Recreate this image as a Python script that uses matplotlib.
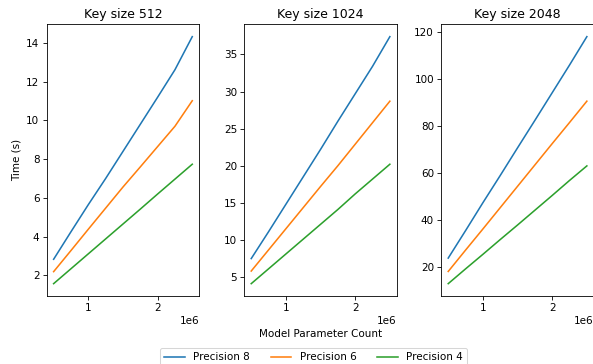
import matplotlib.pyplot as plt
import numpy as np

params = [0.5e6, 0.75e6, 1.0e6, 1.25e6, 1.5e6, 1.75e6, 2.0e6, 2.25e6, 2.5e6]
key_sizes = [512, 1024, 2048]
precisions = [8, 6, 4]

# times in seconds, per key size, per precision
t512_p8 = [2.83, 4.25, 5.65, 7.0, 8.4, 9.8, 11.2, 12.62, 14.33]
t512_p6 = [2.19, 3.28, 4.38, 5.47, 6.56, 7.6, 8.65, 9.7, 11.02]
t512_p4 = [1.57, 2.34, 3.11, 3.88, 4.65, 5.42, 6.2, 6.97, 7.74]

t1024_p8 = [7.48, 11.1, 14.8, 18.5, 22.2, 26.0, 29.7, 33.4, 37.4]
t1024_p6 = [5.8, 8.65, 11.5, 14.35, 17.2, 20.0, 22.9, 25.8, 28.7]
t1024_p4 = [4.1, 6.1, 8.1, 10.1, 12.1, 14.1, 16.2, 18.2, 20.2]

t2048_p8 = [23.8, 35.5, 47.4, 59.0, 70.8, 82.5, 94.3, 106.1, 118.2]
t2048_p6 = [18.1, 27.2, 36.2, 45.3, 54.4, 63.5, 72.6, 81.6, 90.7]
t2048_p4 = [12.9, 19.2, 25.4, 31.7, 37.9, 44.2, 50.5, 56.9, 63.1]

times = {
    512: [t512_p8, t512_p6, t512_p4],
    1024: [t1024_p8, t1024_p6, t1024_p4],
    2048: [t2048_p8, t2048_p6, t2048_p4],
}

W, H = 593, 364
DPI = 75
fig = plt.figure(figsize=(W / DPI, H / DPI), dpi=DPI)

lefts = [46.7, 244.3, 441.3]
aw = 152.5
top, bottom = 24.3, 296
axes = []
for l in lefts:
    ax = fig.add_axes([l / W, 1 - bottom / H, aw / W, (bottom - top) / H])
    axes.append(ax)

for ax, ks in zip(axes, key_sizes):
    for p, y in zip(precisions, times[ks]):
        ax.plot(params, y, label=f"Precision {p}")
    ax.set_title(f"Key size {ks}")

axes[0].set_ylabel("Time (s)")
axes[1].set_xlabel("Model Parameter Count", labelpad=15)

handles, labels = axes[0].get_legend_handles_labels()
fig.legend(handles, labels, loc="upper center", ncol=3,
           bbox_to_anchor=(313.5 / W, 1 - 343 / H))

fig.savefig("out.png", dpi=DPI)
